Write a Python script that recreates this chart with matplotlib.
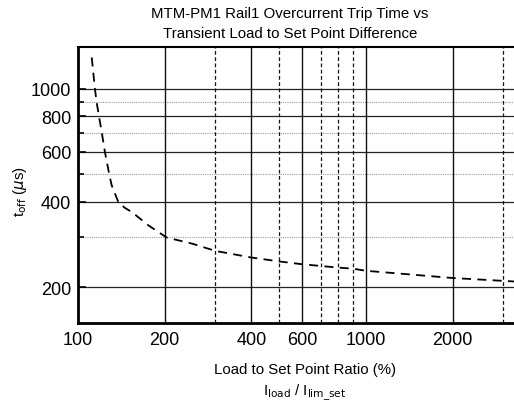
import matplotlib.pyplot as plt
import matplotlib.ticker as mticker

plt.rcParams['font.family'] = ['Liberation Sans', 'DejaVu Sans']

# curve
ratio = [111.6, 114.5, 116, 118.3, 121, 124, 128.4, 130.9, 134.4, 138, 145.6,
         153.6, 175.5, 203, 250, 300, 400, 500, 600, 700, 800, 900, 1000,
         2000, 3270]
t_off = [1290, 1000, 900, 800, 700, 600, 500, 458, 428, 400, 381,
         369, 331, 300, 285, 269, 255, 247, 241.5, 238, 235, 233, 229,
         216, 210]

x_major = [100, 200, 400, 600, 1000, 2000]
x_solid = [200, 400, 600, 1000, 2000]
x_dashed = [300, 500, 700, 800, 900, 3000]
y_major = [200, 400, 600, 800, 1000]
y_minor = [300, 500, 700, 900]

fig = plt.figure(figsize=(5.14, 4.06), dpi=100)
ax = fig.add_axes([78 / 514, 1 - 324 / 406, 1 - 78 / 514, (324 - 48) / 406])
ax.set_xscale('log')
ax.set_yscale('log')
ax.set_xlim(100, 3266)
ax.set_ylim(150, 1404)

for v in y_major:
    ax.axhline(v, color='#222222', lw=0.9, zorder=1)
for v in y_minor:
    ax.axhline(v, color='#999999', lw=0.8, ls=(0, (1, 1)), zorder=1)
for v in x_solid:
    ax.axvline(v, color='#111111', lw=1.0, zorder=1)
for v in x_dashed:
    ax.axvline(v, color='#111111', lw=0.9, ls=(0, (3, 2)), zorder=1)

ax.plot(ratio, t_off, color='black', lw=1.3, ls=(0, (5, 3.5)), zorder=3)

ax.xaxis.set_major_locator(mticker.FixedLocator(x_major))
ax.xaxis.set_major_formatter(mticker.FixedFormatter([str(v) for v in x_major]))
ax.xaxis.set_minor_locator(mticker.NullLocator())
ax.yaxis.set_major_locator(mticker.FixedLocator(y_major))
ax.yaxis.set_major_formatter(mticker.FixedFormatter([str(v) for v in y_major]))
ax.yaxis.set_minor_locator(mticker.FixedLocator(y_minor))
ax.yaxis.set_minor_formatter(mticker.NullFormatter())

ax.tick_params(axis='x', which='both', length=0, labelsize=13, pad=6)
ax.tick_params(axis='y', which='major', direction='in', length=6, width=1.2,
               labelsize=13, pad=5)
ax.tick_params(axis='y', which='minor', direction='in', length=4, width=1.2)

ax.spines['left'].set_linewidth(2)
ax.spines['bottom'].set_linewidth(2)
ax.spines['top'].set_linewidth(1.5)
ax.spines['right'].set_visible(False)

fig.text(290 / 514, 1 - 14 / 406, 'MTM-PM1 Rail1 Overcurrent Trip Time vs',
         ha='center', va='center', fontsize=10.8)
fig.text(290 / 514, 1 - 34 / 406, 'Transient Load to Set Point Difference',
         ha='center', va='center', fontsize=10.8)
fig.text(305 / 514, 1 - 370 / 406, 'Load to Set Point Ratio (%)',
         ha='center', va='center', fontsize=10.8)
fig.text(305 / 514, 1 - 393 / 406, r'I$_{\mathrm{load}}$ / I$_{\mathrm{lim\_set}}$',
         ha='center', va='center', fontsize=10.8)
fig.text(20 / 514, 1 - 192 / 406, r't$_{\mathrm{off}}$ ($\mu$s)',
         ha='center', va='center', fontsize=10.8, rotation=90)

fig.savefig('out.png', dpi=100)
